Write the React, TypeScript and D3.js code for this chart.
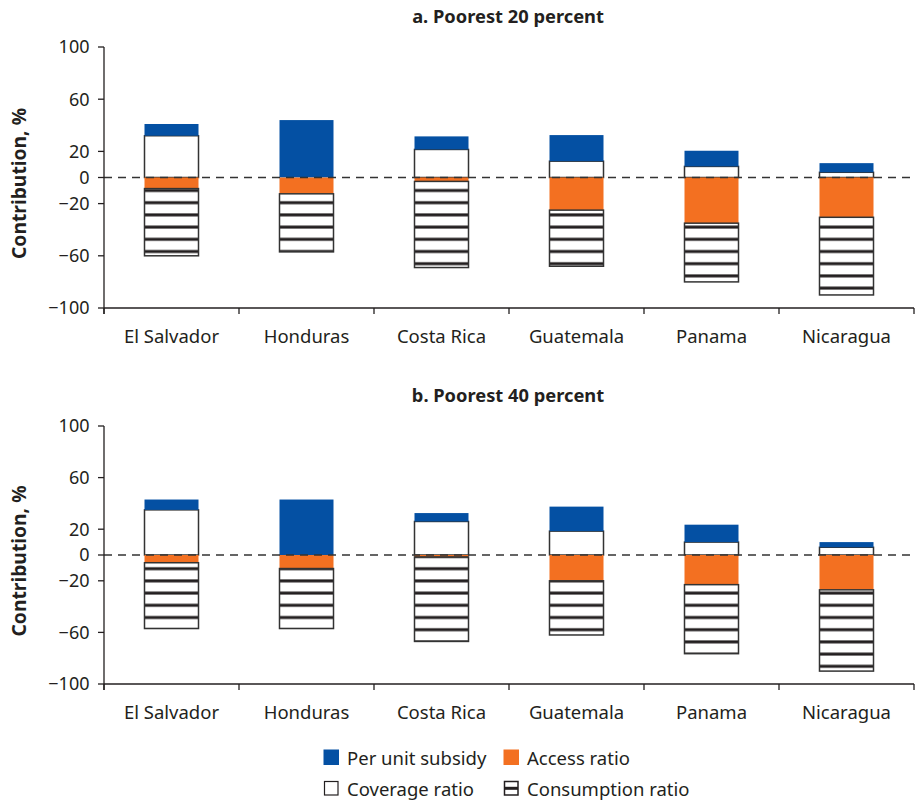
import React from "react";
import * as d3 from "d3";

const categories = ["El Salvador", "Honduras", "Costa Rica", "Guatemala", "Panama", "Nicaragua"];
const seriesKeys = ["coverage", "subsidy", "access", "consumption"];
const seriesLabels = ["Coverage ratio", "Per unit subsidy", "Access ratio", "Consumption ratio"];

// Panel a: Poorest 20 percent
const coverageA = [32, 0, 21.5, 12.5, 8.5, 4];
const subsidyA = [9, 44, 10, 20, 12, 7];
const accessA = [-8.5, -12.5, -3, -25, -35, -30.5];
const consumptionA = [-51.5, -44.5, -66, -43, -45, -59.5];

// Panel b: Poorest 40 percent
const coverageB = [35, 0, 26, 18.5, 10, 6];
const subsidyB = [8, 43, 6.5, 19, 13.5, 4];
const accessB = [-6, -10.5, -1.5, -20, -23, -27];
const consumptionB = [-51, -46.5, -65.5, -42, -53.5, -63];

const yTicks = [100, 60, 20, 0, -20, -60, -100];
const panelTitles = ["a. Poorest 20 percent", "b. Poorest 40 percent"];

const FONT = "'Noto Sans', sans-serif";
const BLUE = "#0450A3";
const ORANGE = "#F37021";
const STROKE = "#333";
const TEXT = "#231f20";

function buildRows(cov: number[], sub: number[], acc: number[], con: number[]) {
  return categories.map((c, i) => ({
    cat: c,
    coverage: cov[i],
    subsidy: sub[i],
    access: acc[i],
    consumption: con[i],
  }));
}

function fillFor(key: string) {
  if (key === "subsidy") return BLUE;
  if (key === "access") return ORANGE;
  if (key === "coverage") return "#fff";
  return "url(#stripes)";
}

function Panel({ rows, top, bottom, title, titleY }: any) {
  const x = d3.scaleBand<string>().domain(categories).range([104, 914]).paddingInner(0.6).paddingOuter(0.3);
  const y = d3.scaleLinear().domain([-100, 100]).range([bottom, top]);
  const stack = d3.stack<any>().keys(seriesKeys).offset(d3.stackOffsetDiverging);
  const series = stack(rows);
  const bw = x.bandwidth();
  const step = x.step();
  const boundaries = d3.range(categories.length + 1).map((i) => 104 + i * step);
  return (
    <g>
      <text x={508} y={titleY} textAnchor="middle" fontFamily={FONT} fontWeight="bold" fontSize={18.3} fill={TEXT}>
        {title}
      </text>
      <text
        transform={`translate(26,${y(0) + 6}) rotate(-90)`}
        textAnchor="middle"
        fontFamily={FONT}
        fontWeight="bold"
        fontSize={19.3}
        fill={TEXT}
      >
        Contribution, %
      </text>
      {series.map((s: any) =>
        s.map((d: any, i: number) => {
          const y0 = Math.min(y(d[0]), y(d[1]));
          const h = Math.abs(y(d[0]) - y(d[1]));
          if (h <= 0.01) return null;
          const outlined = s.key === "coverage" || s.key === "consumption";
          return (
            <rect
              key={s.key + i}
              x={x(d.data.cat)}
              y={y0}
              width={bw}
              height={h}
              fill={fillFor(s.key)}
              stroke={outlined ? STROKE : "none"}
              strokeWidth={outlined ? 1.5 : 0}
            />
          );
        })
      )}
      <line x1={104} x2={914} y1={y(0)} y2={y(0)} stroke="#333" strokeWidth={1.3} strokeDasharray="8,6" />
      <line x1={104} x2={104} y1={y(100)} y2={y(-100) + 6} stroke={TEXT} strokeWidth={1.3} />
      <line x1={104} x2={914} y1={y(-100)} y2={y(-100)} stroke={TEXT} strokeWidth={1.3} />
      {yTicks.map((t) => (
        <g key={t}>
          <line x1={98} x2={104} y1={y(t)} y2={y(t)} stroke={TEXT} strokeWidth={1.3} />
          <text x={89.5} y={y(t)} dy="0.36em" textAnchor="end" fontFamily={FONT} fontSize={18} fill={TEXT}>
            {t < 0 ? "\u2212" + Math.abs(t) : String(t)}
          </text>
        </g>
      ))}
      {boundaries.map((b, i) => (
        <line key={i} x1={b} x2={b} y1={y(-100)} y2={y(-100) + 6} stroke={TEXT} strokeWidth={1.3} />
      ))}
      {categories.map((c) => (
        <text key={c} x={(x(c) as number) + bw / 2} y={y(-100) + 35} textAnchor="middle" fontFamily={FONT} fontSize={18.5} fill={TEXT}>
          {c}
        </text>
      ))}
    </g>
  );
}

export default function App() {
  const rowsA = buildRows(coverageA, subsidyA, accessA, consumptionA);
  const rowsB = buildRows(coverageB, subsidyB, accessB, consumptionB);
  const legend = [
    { label: seriesLabels[1], key: "subsidy", lx: 323.5, ly: 749.5 },
    { label: seriesLabels[2], key: "access", lx: 503.5, ly: 749.5 },
    { label: seriesLabels[0], key: "coverage", lx: 323.5, ly: 780.5 },
    { label: seriesLabels[3], key: "consumption", lx: 503.5, ly: 780.5 },
  ];
  return (
    <svg width={915} height={803} style={{ position: "absolute", left: 0, top: 0, background: "#fff" }}>
      <defs>
        <pattern id="stripes" patternUnits="userSpaceOnUse" x={0} y={0} width={20} height={12.2}>
          <rect x={0} y={0} width={20} height={12.2} fill="#fff" />
          <rect x={0} y={6} width={20} height={3} fill={TEXT} />
        </pattern>
      </defs>
      <rect x={0} y={0} width={915} height={803} fill="#fff" />
      <Panel rows={rowsA} top={47} bottom={308} title={panelTitles[0]} titleY={22.5} />
      <Panel rows={rowsB} top={426} bottom={684} title={panelTitles[1]} titleY={402} />
      {legend.map((l) => (
        <g key={l.key}>
          {l.key === "consumption" ? (
            <g>
              <rect x={l.lx + 1} y={l.ly + 1} width={13.5} height={13.5} fill="#fff" stroke={TEXT} strokeWidth={1.5} />
              <rect x={l.lx + 1} y={l.ly + 6.3} width={13.5} height={3} fill={TEXT} />
            </g>
          ) : l.key === "coverage" ? (
            <rect x={l.lx + 1} y={l.ly + 1} width={13.5} height={13.5} fill="#fff" stroke={TEXT} strokeWidth={1.2} />
          ) : (
            <rect x={l.lx} y={l.ly} width={15.5} height={15.5} fill={fillFor(l.key)} />
          )}
          <text x={l.lx + 23.5} y={l.ly + 15} fontFamily={FONT} fontSize={18.5} fill={TEXT}>
            {l.label}
          </text>
        </g>
      ))}
    </svg>
  );
}
